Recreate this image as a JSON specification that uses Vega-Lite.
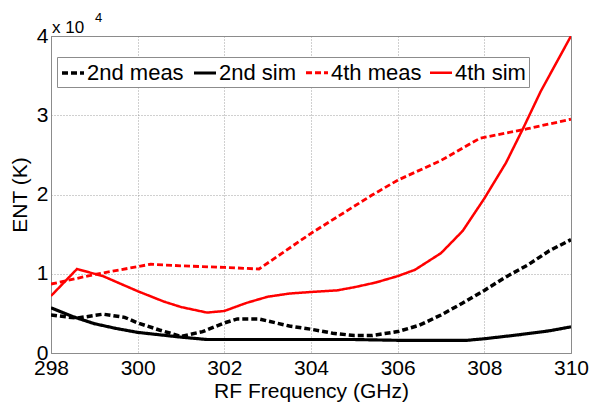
{
  "$schema": "https://vega.github.io/schema/vega-lite/v6.json",
  "width": 520,
  "height": 317,
  "autosize": "none",
  "padding": {"left": 51, "top": 36, "right": 21, "bottom": 49},
  "background": "white",
  "config": {
    "font": "Liberation Sans",
    "view": {"stroke": "#8c8c8c", "strokeWidth": 1},
    "axis": {
      "labelFont": "Liberation Sans",
      "titleFont": "Liberation Sans",
      "labelFontSize": 21,
      "titleFontSize": 21,
      "titleFontWeight": "normal",
      "labelColor": "black",
      "titleColor": "black",
      "domainColor": "#8c8c8c",
      "ticks": false,
      "labelFlush": false,
      "labelOverlap": false,
      "gridColor": "#8a8a8a",
      "gridDash": [1, 2],
      "gridWidth": 1,
      "gridOpacity": 0.8
    }
  },
  "datasets": {
    "series": [
      {"f": 298, "v": 4800, "s": "2nd meas"},
      {"f": 298.6, "v": 4400, "s": "2nd meas"},
      {"f": 299.2, "v": 4900, "s": "2nd meas"},
      {"f": 299.7, "v": 4500, "s": "2nd meas"},
      {"f": 300, "v": 3800, "s": "2nd meas"},
      {"f": 300.5, "v": 2900, "s": "2nd meas"},
      {"f": 301, "v": 2100, "s": "2nd meas"},
      {"f": 301.5, "v": 2700, "s": "2nd meas"},
      {"f": 302, "v": 3800, "s": "2nd meas"},
      {"f": 302.3, "v": 4300, "s": "2nd meas"},
      {"f": 302.8, "v": 4300, "s": "2nd meas"},
      {"f": 303.5, "v": 3400, "s": "2nd meas"},
      {"f": 304, "v": 3000, "s": "2nd meas"},
      {"f": 304.5, "v": 2500, "s": "2nd meas"},
      {"f": 305, "v": 2200, "s": "2nd meas"},
      {"f": 305.4, "v": 2200, "s": "2nd meas"},
      {"f": 306, "v": 2700, "s": "2nd meas"},
      {"f": 306.5, "v": 3500, "s": "2nd meas"},
      {"f": 307, "v": 4800, "s": "2nd meas"},
      {"f": 307.5, "v": 6300, "s": "2nd meas"},
      {"f": 308, "v": 7900, "s": "2nd meas"},
      {"f": 308.5, "v": 9600, "s": "2nd meas"},
      {"f": 309, "v": 11100, "s": "2nd meas"},
      {"f": 309.5, "v": 12900, "s": "2nd meas"},
      {"f": 310, "v": 14300, "s": "2nd meas"},

      {"f": 298, "v": 5700, "s": "2nd sim"},
      {"f": 298.5, "v": 4600, "s": "2nd sim"},
      {"f": 299, "v": 3700, "s": "2nd sim"},
      {"f": 299.5, "v": 3100, "s": "2nd sim"},
      {"f": 300, "v": 2600, "s": "2nd sim"},
      {"f": 300.5, "v": 2300, "s": "2nd sim"},
      {"f": 301, "v": 2000, "s": "2nd sim"},
      {"f": 301.6, "v": 1700, "s": "2nd sim"},
      {"f": 302, "v": 1700, "s": "2nd sim"},
      {"f": 303, "v": 1700, "s": "2nd sim"},
      {"f": 304, "v": 1700, "s": "2nd sim"},
      {"f": 305, "v": 1700, "s": "2nd sim"},
      {"f": 306, "v": 1600, "s": "2nd sim"},
      {"f": 307, "v": 1600, "s": "2nd sim"},
      {"f": 307.6, "v": 1600, "s": "2nd sim"},
      {"f": 308, "v": 1800, "s": "2nd sim"},
      {"f": 308.8, "v": 2300, "s": "2nd sim"},
      {"f": 309.5, "v": 2800, "s": "2nd sim"},
      {"f": 310, "v": 3300, "s": "2nd sim"},

      {"f": 298, "v": 8700, "s": "4th meas"},
      {"f": 299, "v": 9900, "s": "4th meas"},
      {"f": 300.3, "v": 11200, "s": "4th meas"},
      {"f": 301, "v": 11000, "s": "4th meas"},
      {"f": 302, "v": 10800, "s": "4th meas"},
      {"f": 302.8, "v": 10600, "s": "4th meas"},
      {"f": 304, "v": 15100, "s": "4th meas"},
      {"f": 305.4, "v": 19900, "s": "4th meas"},
      {"f": 306, "v": 21800, "s": "4th meas"},
      {"f": 307, "v": 24300, "s": "4th meas"},
      {"f": 307.9, "v": 27100, "s": "4th meas"},
      {"f": 309, "v": 28300, "s": "4th meas"},
      {"f": 310, "v": 29500, "s": "4th meas"},

      {"f": 298, "v": 7200, "s": "4th sim"},
      {"f": 298.6, "v": 10600, "s": "4th sim"},
      {"f": 299.2, "v": 9700, "s": "4th sim"},
      {"f": 300, "v": 7800, "s": "4th sim"},
      {"f": 300.6, "v": 6500, "s": "4th sim"},
      {"f": 301, "v": 5800, "s": "4th sim"},
      {"f": 301.6, "v": 5100, "s": "4th sim"},
      {"f": 302, "v": 5300, "s": "4th sim"},
      {"f": 302.5, "v": 6300, "s": "4th sim"},
      {"f": 303, "v": 7100, "s": "4th sim"},
      {"f": 303.5, "v": 7500, "s": "4th sim"},
      {"f": 304, "v": 7700, "s": "4th sim"},
      {"f": 304.6, "v": 7900, "s": "4th sim"},
      {"f": 305, "v": 8300, "s": "4th sim"},
      {"f": 305.5, "v": 8900, "s": "4th sim"},
      {"f": 306, "v": 9700, "s": "4th sim"},
      {"f": 306.4, "v": 10500, "s": "4th sim"},
      {"f": 307, "v": 12600, "s": "4th sim"},
      {"f": 307.5, "v": 15400, "s": "4th sim"},
      {"f": 308, "v": 19500, "s": "4th sim"},
      {"f": 308.5, "v": 24000, "s": "4th sim"},
      {"f": 308.9, "v": 28400, "s": "4th sim"},
      {"f": 309.3, "v": 33000, "s": "4th sim"},
      {"f": 309.7, "v": 37000, "s": "4th sim"},
      {"f": 310, "v": 40000, "s": "4th sim"}
    ]
  },
  "layer": [
    {
      "data": {"name": "series"},
      "mark": {"type": "line", "clip": true},
      "encoding": {
        "x": {
          "field": "f",
          "type": "quantitative",
          "scale": {"domain": [298, 310], "nice": false, "zero": false},
          "axis": {"values": [298, 300, 302, 304, 306, 308, 310], "title": "RF Frequency (GHz)", "labelPadding": 4, "titlePadding": 2}
        },
        "y": {
          "field": "v",
          "type": "quantitative",
          "scale": {"domain": [0, 40000], "nice": false},
          "axis": {"values": [0, 10000, 20000, 30000, 40000], "labelExpr": "datum.value / 10000", "title": "ENT (K)", "labelPadding": 3, "titlePadding": 6}
        },
        "color": {
          "field": "s",
          "type": "nominal",
          "scale": {"domain": ["2nd meas", "2nd sim", "4th meas", "4th sim"], "range": ["black", "black", "#ff0000", "#ff0000"]},
          "legend": {
            "title": null,
            "orient": "none",
            "legendX": 6,
            "legendY": 21,
            "direction": "horizontal",
            "columns": 4,
            "symbolType": "stroke",
            "symbolSize": 484,
            "labelFontSize": 22,
            "labelFont": "Liberation Sans",
            "labelColor": "black",
            "labelOffset": 1,
            "columnPadding": 3,
            "padding": 3,
            "strokeColor": "#8c8c8c",
            "fillColor": "white"
          }
        },
        "strokeDash": {
          "field": "s",
          "type": "nominal",
          "scale": {"domain": ["2nd meas", "2nd sim", "4th meas", "4th sim"], "range": [[6, 3], [1, 0], [6, 3], [1, 0]]}
        },
        "strokeWidth": {
          "field": "s",
          "type": "nominal",
          "scale": {"domain": ["2nd meas", "2nd sim", "4th meas", "4th sim"], "range": [3.5, 2.5, 2, 2]}
        }
      }
    },
    {
      "data": {"values": [{}]},
      "mark": {"type": "text", "align": "left", "baseline": "alphabetic", "fontSize": 17, "font": "Liberation Sans", "color": "black", "dx": 1, "dy": -3, "clip": false},
      "encoding": {
        "x": {"datum": 298},
        "y": {"datum": 40000},
        "text": {"value": "x 10"}
      }
    },
    {
      "data": {"values": [{}]},
      "mark": {"type": "text", "align": "left", "baseline": "alphabetic", "fontSize": 13, "font": "Liberation Sans", "color": "black", "dx": 44, "dy": -14, "clip": false},
      "encoding": {
        "x": {"datum": 298},
        "y": {"datum": 40000},
        "text": {"value": "4"}
      }
    }
  ]
}
